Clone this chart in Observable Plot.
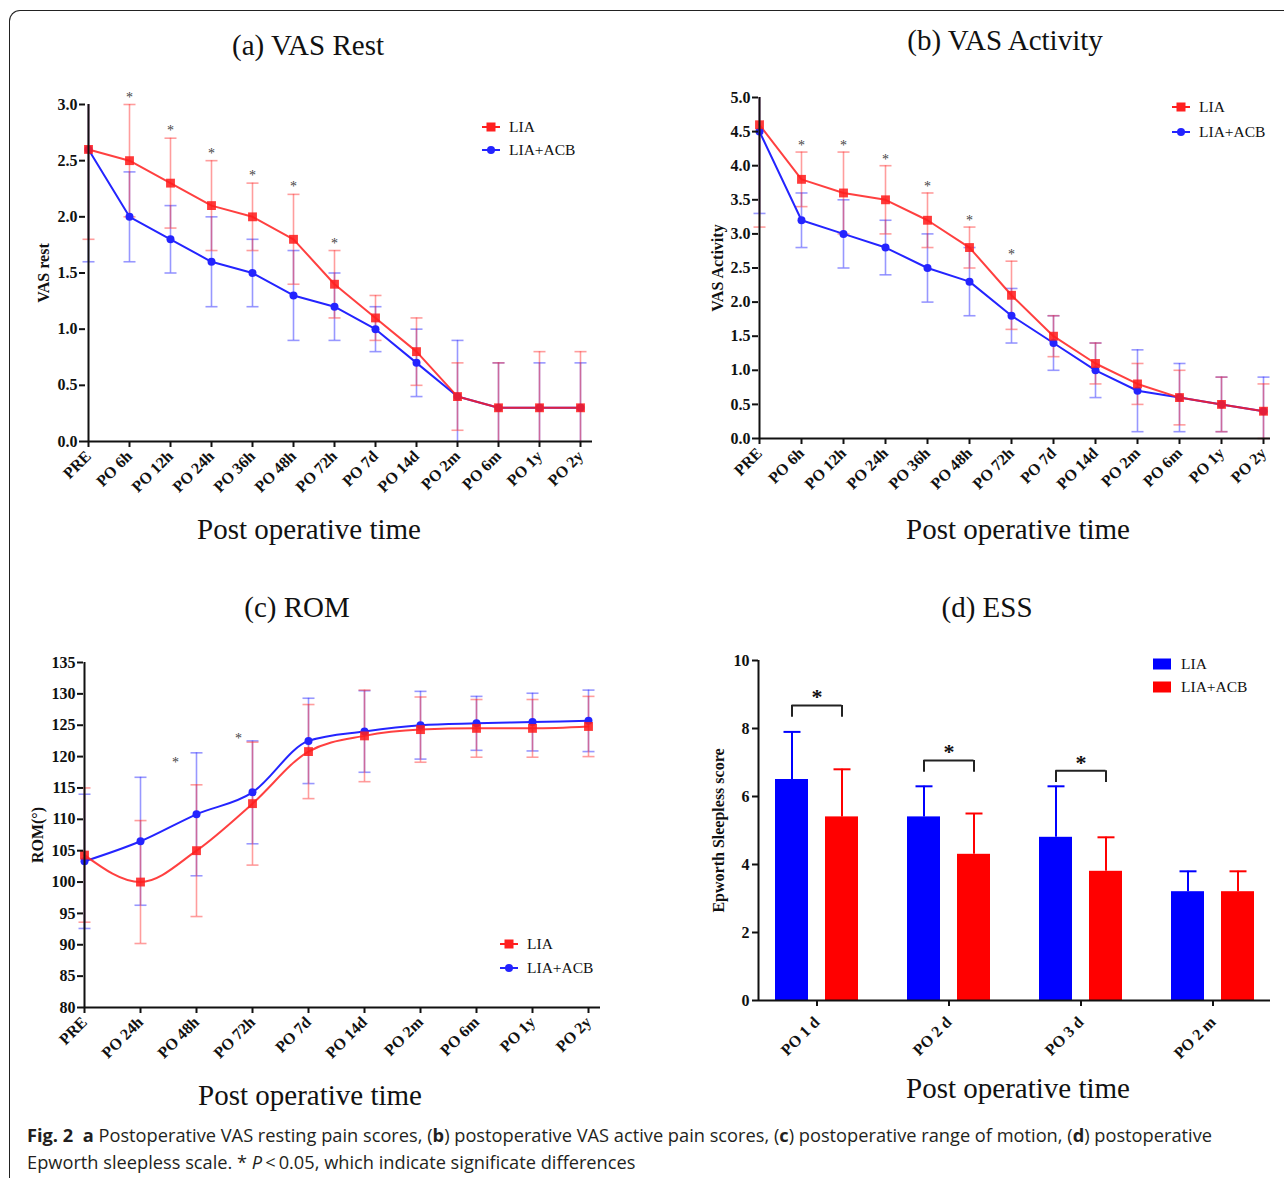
<!DOCTYPE html>
<html><head><meta charset="utf-8">
<script src="https://cdn.jsdelivr.net/npm/d3@7"></script>
<script src="https://cdn.jsdelivr.net/npm/@observablehq/plot@0.6"></script>
<style>
body{margin:0;background:#fff}
#page{position:relative;width:1284px;height:1178px;overflow:hidden;background:#fff;font-family:"Liberation Serif","Times New Roman",serif;color:#111}
.title{position:absolute;font-size:29px;white-space:nowrap;transform:translateX(-50%);line-height:1}
.legend{position:absolute;font-size:15.5px;line-height:1}
.legend .li{display:flex;align-items:center;height:23px}
.legend svg{margin-right:9px}
#frame{position:absolute;left:9px;top:10px;width:1400px;height:1300px;border-top:1.5px solid #222;border-left:1.5px solid #222;border-top-left-radius:11px}
#caption{position:absolute;left:27px;top:1122px;font-family:"Open Sans","Noto Sans",sans-serif;font-size:18px;line-height:27px;color:#231f20;white-space:nowrap;transform-origin:0 0}
</style></head>
<body><div id="page"><div id="frame"></div></div>
<script>
// ---------- data ----------
const vasTimes = ["PRE","PO 6h","PO 12h","PO 24h","PO 36h","PO 48h","PO 72h","PO 7d","PO 14d","PO 2m","PO 6m","PO 1y","PO 2y"];
const restLIA    = [2.6,2.5,2.3,2.1,2.0,1.8,1.4,1.1,0.8,0.4,0.3,0.3,0.3];
const restLIASD  = [0.8,0.5,0.4,0.4,0.3,0.4,0.3,0.2,0.3,0.3,0.4,0.5,0.5];
const restACB    = [2.6,2.0,1.8,1.6,1.5,1.3,1.2,1.0,0.7,0.4,0.3,0.3,0.3];
const restACBSD  = [1.0,0.4,0.3,0.4,0.3,0.4,0.3,0.2,0.3,0.5,0.4,0.4,0.4];
const restStars  = ["PO 6h","PO 12h","PO 24h","PO 36h","PO 48h","PO 72h"];
const restTicks  = [0,0.5,1.0,1.5,2.0,2.5,3.0];

const actLIA     = [4.6,3.8,3.6,3.5,3.2,2.8,2.1,1.5,1.1,0.8,0.6,0.5,0.4];
const actLIASD   = [1.5,0.4,0.6,0.5,0.4,0.3,0.5,0.3,0.3,0.3,0.4,0.4,0.4];
const actACB     = [4.5,3.2,3.0,2.8,2.5,2.3,1.8,1.4,1.0,0.7,0.6,0.5,0.4];
const actACBSD   = [1.2,0.4,0.5,0.4,0.5,0.5,0.4,0.4,0.4,0.6,0.5,0.4,0.5];
const actStars   = ["PO 6h","PO 12h","PO 24h","PO 36h","PO 48h","PO 72h"];
const actTicks   = [0,0.5,1.0,1.5,2.0,2.5,3.0,3.5,4.0,4.5,5.0];

const romTimes   = ["PRE","PO 24h","PO 48h","PO 72h","PO 7d","PO 14d","PO 2m","PO 6m","PO 1y","PO 2y"];
const romLIA     = [104.3,100.0,105.0,112.5,120.8,123.3,124.3,124.5,124.5,124.8];
const romLIASD   = [10.7,9.8,10.5,9.8,7.5,7.3,5.2,4.6,4.6,4.8];
const romACB     = [103.3,106.5,110.8,114.3,122.5,124.0,125.0,125.3,125.5,125.7];
const romACBSD   = [10.7,10.2,9.8,8.2,6.8,6.5,5.4,4.3,4.6,4.9];
const romStarAt  = ["PO 48h","PO 72h"];
const romStarY   = [119.1,122.9];
const romTicks   = [80,85,90,95,100,105,110,115,120,125,130,135];

const essTimes   = ["PO 1 d","PO 2 d","PO 3 d","PO 2 m"];
const essLIA     = [6.5,5.4,4.8,3.2];
const essLIASD   = [1.4,0.9,1.5,0.6];
const essACB     = [5.4,4.3,3.8,3.2];
const essACBSD   = [1.4,1.2,1.0,0.6];
const essBracketAt = ["PO 1 d","PO 2 d","PO 3 d"];
const essBracketY  = [8.68,7.06,6.76];
const essTicks   = [0,2,4,6,8,10];

const RED = "#ff1f1f", BLUE = "#2424ff";
const RED_ERR = "rgba(255,60,60,0.5)", BLUE_ERR = "rgba(50,50,255,0.5)";
const FONT = '"Liberation Serif","Times New Roman",serif';
const TICK_FS = 16, YLAB_FS = 16;

const hline = {draw(ctx, size){ const r = Math.sqrt(size/Math.PI); ctx.moveTo(-r,0); ctx.lineTo(r,0); }};
const page = document.getElementById("page");

function place(el, left, top){ el.style.position="absolute"; el.style.left=left+"px"; el.style.top=top+"px"; page.appendChild(el); }
function addTitle(text, cx, top){ const d=document.createElement("div"); d.className="title"; d.textContent=text; d.style.left=cx+"px"; d.style.top=top+"px"; page.appendChild(d); }
function addLineLegend(left, top, gap){
  const d=document.createElement("div"); d.className="legend"; d.style.left=left+"px"; d.style.top=top+"px";
  d.innerHTML = `<div class="li" style="height:${gap}px"><svg width="18" height="12"><line x1="0" x2="18" y1="6" y2="6" stroke="${RED}" stroke-width="2"/><rect x="4.5" y="1.5" width="9" height="9" fill="${RED}"/></svg><span>LIA</span></div>
  <div class="li" style="height:${gap}px"><svg width="18" height="12"><line x1="0" x2="18" y1="6" y2="6" stroke="${BLUE}" stroke-width="2"/><circle cx="9" cy="6" r="4" fill="${BLUE}"/></svg><span>LIA+ACB</span></div>`;
  page.appendChild(d);
}

function linePanel(o){
  const [d0,d1] = o.domain;
  const rows = (vals, sds) => o.times.map((t,i)=>({t, v:vals[i], lo:Math.max(d0, vals[i]-sds[i]), hi:Math.min(d1, vals[i]+sds[i]), loC: vals[i]-sds[i] >= d0, hiC: vals[i]+sds[i] <= d1}));
  const A = rows(o.a, o.aSD), B = rows(o.b, o.bSD);
  const errMarks = (R, col) => [
    Plot.ruleX(R, {x:"t", y1:"lo", y2:"hi", stroke:col, strokeWidth:1.6}),
    Plot.dot(R.filter(d=>d.hiC), {x:"t", y:"hi", symbol:hline, r:6, stroke:col, strokeWidth:1.6}),
    Plot.dot(R.filter(d=>d.loC), {x:"t", y:"lo", symbol:hline, r:6, stroke:col, strokeWidth:1.6})
  ];
  const plot = Plot.plot({
    width:o.width, height:o.height, marginTop:o.mt, marginBottom:o.mb, marginLeft:o.ml, marginRight:o.mr,
    style:{fontFamily:FONT, fontSize:TICK_FS+"px", fontWeight:"bold", color:"#111", background:"transparent", overflow:"visible"},
    x:{type:"point", domain:o.times, range:[o.ml, o.xr], padding:0},
    y:{domain:o.domain, range:[o.height-o.mb, o.mt]},
    marks:[
      ...errMarks(B, BLUE_ERR),
      ...errMarks(A, RED_ERR),
      Plot.line(B, {x:"t", y:"v", stroke:BLUE, strokeWidth:2, curve:o.curve||"linear"}),
      Plot.line(A, {x:"t", y:"v", stroke:RED, strokeWidth:2, strokeOpacity:0.85, curve:o.curve||"linear"}),
      Plot.dot(B, {x:"t", y:"v", r:4, fill:BLUE, symbol:"circle"}),
      Plot.dot(A, {x:"t", y:"v", r:5, fill:RED, fillOpacity:0.88, symbol:"square"}),
      o.starMarks(A),
      Plot.ruleX([o.times[0]], {x:d=>d, y1:d0, y2:d1, stroke:"#111", strokeWidth:2}),
      Plot.ruleY([d0], {stroke:"#111", strokeWidth:2}),
      Plot.axisY({ticks:o.ticks, tickFormat:o.fmt, tickSize:6, tickPadding:2, strokeWidth:2, label:null, fontSize:TICK_FS, fontWeight:"bold"}),
      Plot.axisX({tickRotate:-45, tickSize:6, tickPadding:6, strokeWidth:2, label:null, fontSize:TICK_FS, fontWeight:"bold"}),
      Plot.text([o.ylabel], {frameAnchor:"left", textAnchor:"middle", dx:o.ylabelDx, rotate:-90, fontSize:YLAB_FS, fontWeight:"bold"})
    ]
  });
  place(plot, o.left, o.top);
}

// (a) VAS Rest
addTitle("(a) VAS Rest", 308, 31);
linePanel({times:vasTimes, a:restLIA, aSD:restLIASD, b:restACB, bSD:restACBSD, domain:[0,3], ticks:restTicks, fmt:d3.format(".1f"),
  left:0, top:80, width:620, height:420, mt:24, mb:59, ml:85, mr:28, xr:583, ylabel:"VAS rest", ylabelDx:-42,
  starMarks:(A)=>Plot.text(A.filter(d=>restStars.includes(d.t)), {x:"t", y:"hi", text:()=>"*", lineAnchor:"bottom", dy:-3, fontSize:14, fontWeight:"normal", fill:"#444"})});
addLineLegend(482, 115, 23);
addTitle("Post operative time", 309, 515);

// (b) VAS Activity
addTitle("(b) VAS Activity", 1005, 26);
linePanel({times:vasTimes, a:actLIA, aSD:actLIASD, b:actACB, bSD:actACBSD, domain:[0,5], ticks:actTicks, fmt:d3.format(".1f"),
  left:680, top:80, width:604, height:420, mt:17, mb:62, ml:78, mr:14, xr:583, ylabel:"VAS Activity", ylabelDx:-41,
  starMarks:(A)=>Plot.text(A.filter(d=>actStars.includes(d.t)), {x:"t", y:"hi", text:()=>"*", lineAnchor:"bottom", dy:-2, fontSize:14, fontWeight:"normal", fill:"#444"})});
addLineLegend(1172, 94, 25);
addTitle("Post operative time", 1018, 515);

// (c) ROM
addTitle("(c) ROM", 297, 593);
const romStars = romStarAt.map((t,i)=>({t, y:romStarY[i]}));
linePanel({times:romTimes, a:romLIA, aSD:romLIASD, b:romACB, bSD:romACBSD, domain:[80,135], ticks:romTicks, fmt:d3.format("d"), curve:"monotone-x",
  left:0, top:640, width:620, height:420, mt:22, mb:53, ml:83, mr:20, xr:589, ylabel:"ROM(°)", ylabelDx:-46,
  starMarks:()=>[Plot.text(romStars.slice(0,1), {x:"t", y:"y", dx:-21, text:()=>"*", fontSize:14, fontWeight:"normal", fill:"#444"}),
                 Plot.text(romStars.slice(1), {x:"t", y:"y", dx:-14, text:()=>"*", fontSize:14, fontWeight:"normal", fill:"#444"})]});
addLineLegend(500, 932, 24);
addTitle("Post operative time", 310, 1081);

// (d) ESS
addTitle("(d) ESS", 987, 593);
{
  const L = essTimes.map((t,i)=>({t, v:essLIA[i], hi:essLIA[i]+essLIASD[i]}));
  const R = essTimes.map((t,i)=>({t, v:essACB[i], hi:essACB[i]+essACBSD[i]}));
  const Br = essBracketAt.map((t,i)=>({t, y:essBracketY[i]}));
  const W=604, H=420, mt=20, mb=60, ml=78, mr=14;
  const plot = Plot.plot({
    width:W, height:H, marginTop:mt, marginBottom:mb, marginLeft:ml, marginRight:mr,
    style:{fontFamily:FONT, fontSize:TICK_FS+"px", fontWeight:"bold", color:"#111", background:"transparent", overflow:"visible"},
    x:{type:"band", domain:essTimes, paddingInner:0.3726, paddingOuter:0.1247},
    y:{domain:[0,10]},
    marks:[
      Plot.ruleX(L, {x:"t", y1:"v", y2:"hi", dx:-25, stroke:"#0000ff", strokeWidth:2}),
      Plot.dot(L, {x:"t", y:"hi", dx:-25, symbol:hline, r:8.5, stroke:"#0000ff", strokeWidth:2}),
      Plot.ruleX(R, {x:"t", y1:"v", y2:"hi", dx:25, stroke:"#ff0000", strokeWidth:2}),
      Plot.dot(R, {x:"t", y:"hi", dx:25, symbol:hline, r:8.5, stroke:"#ff0000", strokeWidth:2}),
      Plot.barY(L, {x:"t", y:"v", fill:"#0000ff", insetRight:50}),
      Plot.barY(R, {x:"t", y:"v", fill:"#ff0000", insetLeft:50}),
      Plot.tickY(Br, {x:"t", y:"y", insetLeft:16.5, insetRight:16.5, stroke:"#222", strokeWidth:2}),
      Plot.ruleX(Br, {x:"t", y1:d=>d.y-0.35, y2:"y", dx:-25, stroke:"#222", strokeWidth:2}),
      Plot.ruleX(Br, {x:"t", y1:d=>d.y-0.35, y2:"y", dx:25, stroke:"#222", strokeWidth:2}),
      Plot.text(Br, {x:"t", y:"y", text:()=>"*", lineAnchor:"bottom", dy:-1, fontSize:22, fontWeight:"bold", fill:"#111"}),
      // y-axis line: a rule with no x is centred in the frame; shift it to the left edge
      Plot.ruleX([0], {x:null, y1:0, y2:10, dx:-(W-ml-mr)/2, stroke:"#111", strokeWidth:2}),
      Plot.ruleY([0], {stroke:"#111", strokeWidth:2}),
      Plot.axisY({ticks:essTicks, tickFormat:d3.format("d"), tickSize:6, tickPadding:3, strokeWidth:2, label:null, fontSize:TICK_FS, fontWeight:"bold"}),
      Plot.axisX({tickRotate:-45, tickSize:6, tickPadding:13, strokeWidth:2, label:null, fontSize:TICK_FS, fontWeight:"bold"}),
      Plot.text(["Epworth Sleepless score"], {frameAnchor:"left", textAnchor:"middle", dx:-40, rotate:-90, fontSize:YLAB_FS, fontWeight:"bold"})
    ]
  });
  place(plot, 680, 640);
  const d=document.createElement("div"); d.className="legend"; d.style.left="1153px"; d.style.top="652px";
  d.innerHTML = `<div class="li"><svg width="18" height="12"><rect x="0" y="0.5" width="18" height="11" fill="#0000ff"/></svg><span>LIA</span></div>
  <div class="li"><svg width="18" height="12"><rect x="0" y="0.5" width="18" height="11" fill="#ff0000"/></svg><span>LIA+ACB</span></div>`;
  d.querySelectorAll("svg").forEach(s=>s.style.marginRight="10px");
  page.appendChild(d);
}
addTitle("Post operative time", 1018, 1074);

// caption
{
  const c=document.createElement("div"); c.id="caption";
  c.innerHTML = `<span id="cap1"><b>Fig. 2</b>&nbsp; <b>a</b> Postoperative VAS resting pain scores, (<b>b</b>) postoperative VAS active pain scores, (<b>c</b>) postoperative range of motion, (<b>d</b>) postoperative</span><br><span>Epworth sleepless scale. * <i>P</i>&thinsp;&lt;&thinsp;0.05, which indicate significate differences</span>`;
  page.appendChild(c);
  const w = document.getElementById("cap1").getBoundingClientRect().width;
  c.style.transform = `scaleX(${1185/w})`;
}
</script></body></html>
